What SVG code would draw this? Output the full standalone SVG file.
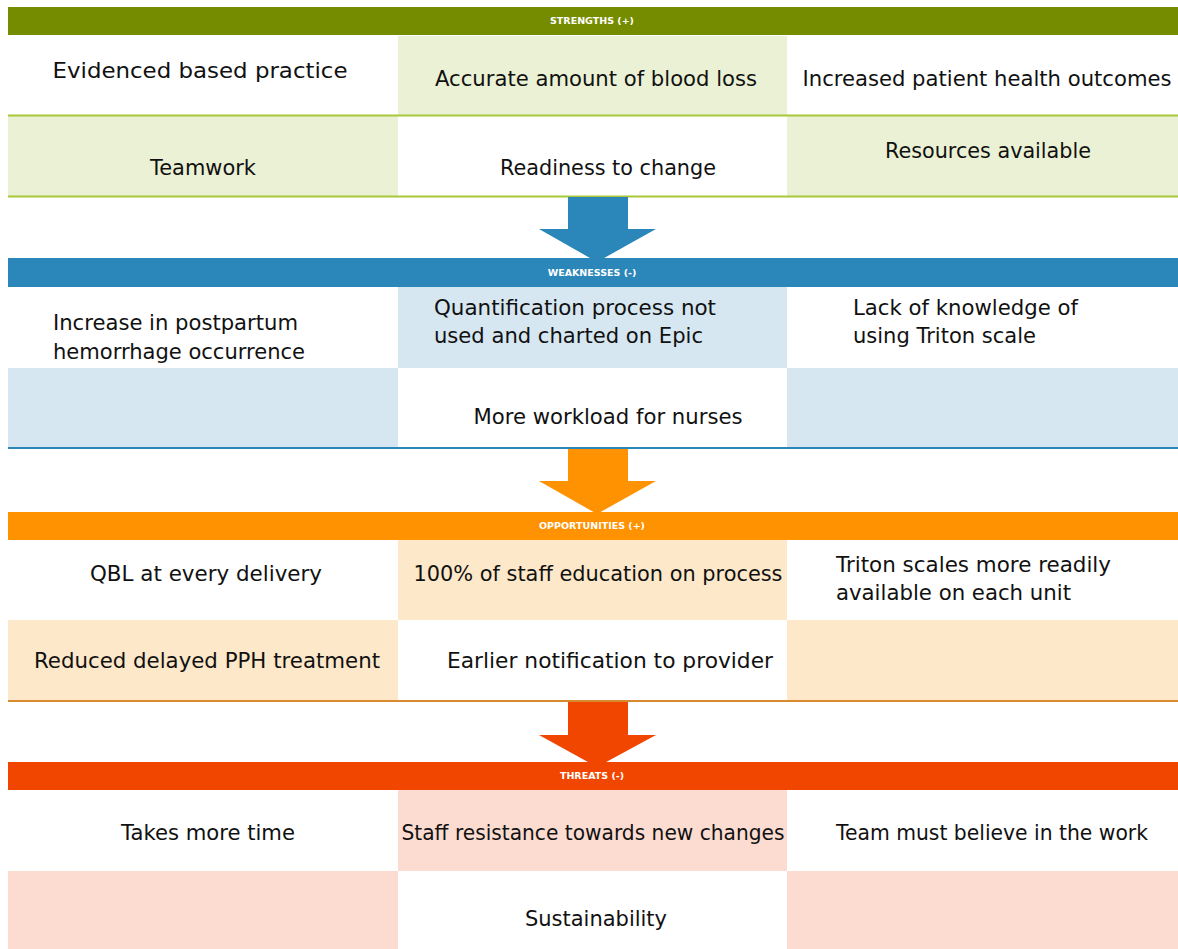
<svg xmlns="http://www.w3.org/2000/svg" width="1178" height="949" viewBox="0 0 1178 949">
<style>
.t{font-family:"DejaVu Sans","Liberation Sans",sans-serif;font-size:21px;fill:#111}
.c{text-anchor:middle}
.h{font-family:"DejaVu Sans","Liberation Sans",sans-serif;font-size:9.5px;font-weight:bold;fill:#fff;text-anchor:middle}
</style>
<rect width="1178" height="949" fill="#fff"/>
<g id="strengths">
<rect x="8" y="36" width="1170" height="160" fill="#fff"/>
<rect x="398" y="36" width="389" height="80" fill="#EBF1D4"/>
<rect x="8" y="116" width="390" height="80" fill="#EBF1D4"/>
<rect x="787" y="116" width="391" height="80" fill="#EBF1D4"/>
<line x1="8" y1="115.5" x2="1178" y2="115.5" stroke="#A8C83A" stroke-width="2"/>
<line x1="8" y1="196.5" x2="1178" y2="196.5" stroke="#A8C83A" stroke-width="2"/>
<rect x="8" y="7" width="1170" height="28" fill="#768C00"/>
<text class="h" x="592" y="24">STRENGTHS (+)</text>
<text class="t c" x="200" y="78" textLength="295" lengthAdjust="spacingAndGlyphs">Evidenced based practice</text>
<text class="t c" x="596" y="86" textLength="322" lengthAdjust="spacingAndGlyphs">Accurate amount of blood loss</text>
<text class="t c" x="987" y="86" textLength="369" lengthAdjust="spacingAndGlyphs">Increased patient health outcomes</text>
<text class="t c" x="203" y="175" textLength="106" lengthAdjust="spacingAndGlyphs">Teamwork</text>
<text class="t c" x="608" y="175" textLength="216" lengthAdjust="spacingAndGlyphs">Readiness to change</text>
<text class="t c" x="988" y="158" textLength="206" lengthAdjust="spacingAndGlyphs">Resources available</text>
</g>
<g id="weaknesses">
<rect x="8" y="287" width="1170" height="161" fill="#fff"/>
<rect x="398" y="287" width="389" height="81" fill="#D6E7F1"/>
<rect x="8" y="368" width="390" height="80" fill="#D6E7F1"/>
<rect x="787" y="368" width="391" height="80" fill="#D6E7F1"/>
<line x1="8" y1="448" x2="1178" y2="448" stroke="#2B87B9" stroke-width="2"/>
<rect x="8" y="258" width="1170" height="29" fill="#2B87B9"/>
<text class="h" x="592" y="276">WEAKNESSES (-)</text>
<text class="t" x="53" y="330" textLength="245" lengthAdjust="spacingAndGlyphs">Increase in postpartum</text>
<text class="t" x="53" y="359" textLength="252" lengthAdjust="spacingAndGlyphs">hemorrhage occurrence</text>
<text class="t" x="434" y="315" textLength="282" lengthAdjust="spacingAndGlyphs">Quantification process not</text>
<text class="t" x="434" y="343" textLength="269" lengthAdjust="spacingAndGlyphs">used and charted on Epic</text>
<text class="t" x="853" y="315" textLength="225" lengthAdjust="spacingAndGlyphs">Lack of knowledge of</text>
<text class="t" x="853" y="343" textLength="183" lengthAdjust="spacingAndGlyphs">using Triton scale</text>
<text class="t c" x="608" y="424" textLength="269" lengthAdjust="spacingAndGlyphs">More workload for nurses</text>
</g>
<g id="opportunities">
<rect x="8" y="540" width="1170" height="161" fill="#fff"/>
<rect x="398" y="540" width="389" height="80" fill="#FDE8C9"/>
<rect x="8" y="620" width="390" height="81" fill="#FDE8C9"/>
<rect x="787" y="620" width="391" height="81" fill="#FDE8C9"/>
<line x1="8" y1="701" x2="1178" y2="701" stroke="#D98A2E" stroke-width="2"/>
<rect x="8" y="512" width="1170" height="28" fill="#FF9200"/>
<text class="h" x="592" y="529">OPPORTUNITIES (+)</text>
<text class="t c" x="206" y="581" textLength="232" lengthAdjust="spacingAndGlyphs">QBL at every delivery</text>
<text class="t c" x="598" y="581" textLength="369" lengthAdjust="spacingAndGlyphs">100% of staff education on process</text>
<text class="t" x="836" y="572" textLength="275" lengthAdjust="spacingAndGlyphs">Triton scales more readily</text>
<text class="t" x="836" y="600" textLength="235" lengthAdjust="spacingAndGlyphs">available on each unit</text>
<text class="t c" x="207" y="668" textLength="346" lengthAdjust="spacingAndGlyphs">Reduced delayed PPH treatment</text>
<text class="t c" x="610" y="668" textLength="326" lengthAdjust="spacingAndGlyphs">Earlier notification to provider</text>
</g>
<g id="threats">
<rect x="8" y="790" width="1170" height="159" fill="#fff"/>
<rect x="398" y="790" width="389" height="81" fill="#FCDCD1"/>
<rect x="8" y="871" width="390" height="78" fill="#FCDCD1"/>
<rect x="787" y="871" width="391" height="78" fill="#FCDCD1"/>
<rect x="8" y="762" width="1170" height="28" fill="#F04600"/>
<text class="h" x="592" y="779">THREATS (-)</text>
<text class="t c" x="208" y="840" textLength="174" lengthAdjust="spacingAndGlyphs">Takes more time</text>
<text class="t c" x="593" y="840" textLength="383" lengthAdjust="spacingAndGlyphs">Staff resistance towards new changes</text>
<text class="t c" x="992" y="840" textLength="312" lengthAdjust="spacingAndGlyphs">Team must believe in the work</text>
<text class="t c" x="596" y="926" textLength="142" lengthAdjust="spacingAndGlyphs">Sustainability</text>
</g>
<g id="connectors">
<polygon points="568,197 628,197 628,229 656,229 597,262 539,229 568,229" fill="#2B87B9"/>
<polygon points="568,449 628,449 628,481 656,481 597,514 539,481 568,481" fill="#FF9200"/>
<polygon points="568,702 628,702 628,735 656,735 597,767 539,735 568,735" fill="#F04600"/>
</g>
</svg>
